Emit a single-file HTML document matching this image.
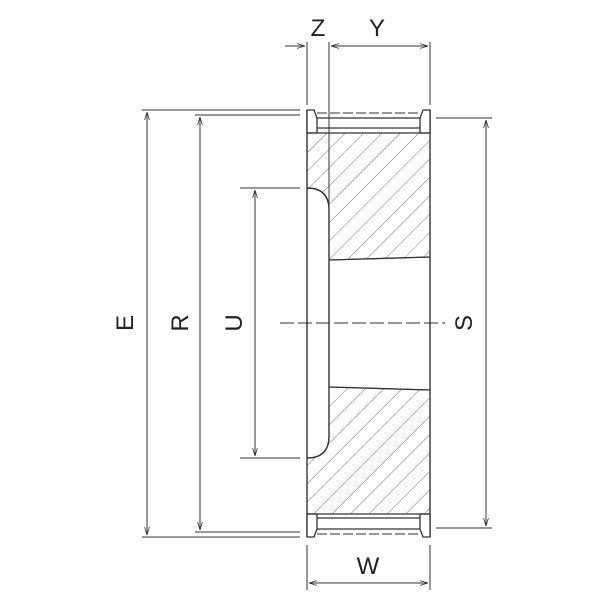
<!DOCTYPE html>
<html><head><style>body{margin:0;background:#fff}</style></head><body>
<svg width="600" height="600" viewBox="0 0 600 600" xmlns="http://www.w3.org/2000/svg" font-family="Liberation Sans, sans-serif">
<defs>
<pattern id="h" patternUnits="userSpaceOnUse" width="13" height="13" patternTransform="rotate(45)">
<line x1="0" y1="0" x2="0" y2="13" stroke="#555" stroke-width="0.8"/>
</pattern>
<marker id="a" viewBox="0 0 10 10" refX="10" refY="5" markerWidth="8" markerHeight="8" orient="auto-start-reverse"><path d="M0,2L10,5L0,8" fill="none" stroke="#333" stroke-width="1"/></marker>
</defs>
<g stroke="#333" stroke-width="1" fill="none">
<path d="M307,133 H430 V257 L329,260 V210 Q329,188 307,188 Z" fill="url(#h)"/>
<path d="M307,514 H430 V390 L329,387 V436 Q329,458 307,458 Z" fill="url(#h)"/>
<path d="M307,110 V537 M430,110 V537" stroke-width="1.4"/>
<path d="M307,188 Q329,188 329,210 V436 Q329,458 307,458" stroke-width="1.4"/>
<path d="M329,260 L430,257 M329,387 L430,390" stroke-width="1.3"/>
<path d="M307,110 H314 L317,118 V133 H307 Z M430,110 H423 L420,118 V133 H430 Z" fill="#fff" stroke-width="1.3"/>
<path d="M317,118 H420 M317,128 H420 M307,133 H430" stroke-width="1.2"/>
<path d="M317,113 H420" stroke-dasharray="10,3"/>
<path d="M307,537 H314 L317,529 V514 H307 Z M430,537 H423 L420,529 V514 H430 Z" fill="#fff" stroke-width="1.3"/>
<path d="M317,518 H420 M317,529 H420 M307,514 H430" stroke-width="1.2"/>
<path d="M317,534 H420" stroke-dasharray="10,3"/>
<path d="M142,110 H300 M142,537 H300 M195,115 H300 M195,532 H300 M240,188 H300 M240,458 H300 M436,118 H492 M436,528 H492"/>
<path d="M307,42 V105 M329,42 V210 M430,42 V105 M307,545 V590 M430,545 V590"/>
<path d="M280,323 H445" stroke-dasharray="14,4"/>
<line x1="147" y1="112" x2="147" y2="535" marker-start="url(#a)" marker-end="url(#a)"/>
<line x1="200" y1="117" x2="200" y2="530" marker-start="url(#a)" marker-end="url(#a)"/>
<line x1="255" y1="190" x2="255" y2="456" marker-start="url(#a)" marker-end="url(#a)"/>
<line x1="486" y1="120" x2="486" y2="526" marker-start="url(#a)" marker-end="url(#a)"/>
<line x1="285" y1="46" x2="305" y2="46" marker-end="url(#a)"/>
<line x1="331" y1="46" x2="428" y2="46" marker-start="url(#a)" marker-end="url(#a)"/>
<line x1="309" y1="583" x2="428" y2="583" marker-start="url(#a)" marker-end="url(#a)"/>
</g>
<g font-size="24" fill="#222" text-anchor="middle">
<text x="318" y="36">Z</text>
<text x="377" y="36">Y</text>
<text x="368" y="574">W</text>
<text transform="translate(133,323) rotate(-90)">E</text>
<text transform="translate(188,323) rotate(-90)">R</text>
<text transform="translate(242,323) rotate(-90)">U</text>
<text transform="translate(472,323) rotate(-90)">S</text>
</g>
</svg>
</body></html>
